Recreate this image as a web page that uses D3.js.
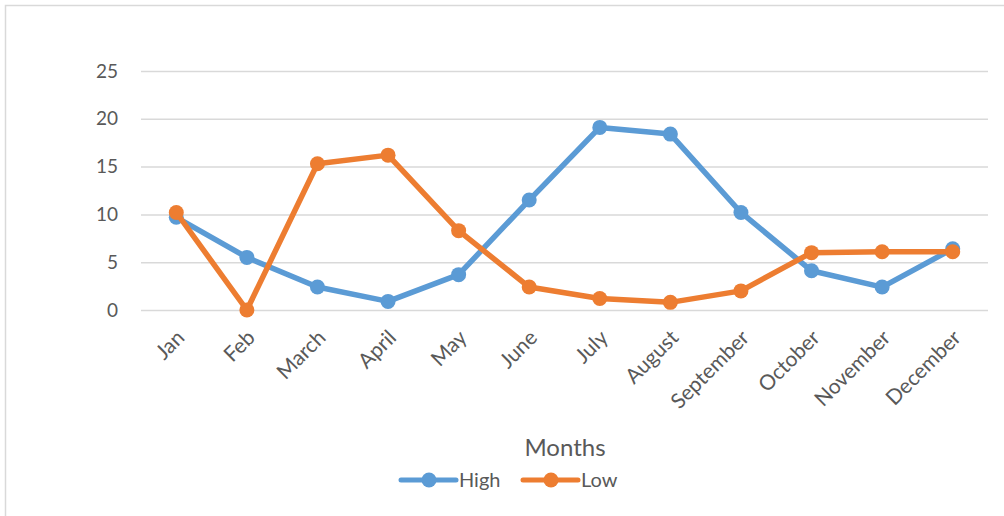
<!DOCTYPE html>
<html>
<head>
<meta charset="utf-8">
<script src="https://cdn.jsdelivr.net/npm/d3@7"></script>
<style>
  html, body { margin: 0; padding: 0; background: #fff; }
  svg { display: block; font-family: Lato, "Open Sans", sans-serif; }
</style>
</head>
<body>
<script>
"use strict";

const width = 1004;
const height = 516;

const months = ["Jan", "Feb", "March", "April", "May", "June", "July",
  "August", "September", "October", "November", "December"];
const high = [9.7, 5.5, 2.4, 0.9, 3.7, 11.5, 19.1, 18.4, 10.2, 4.1, 2.4, 6.4];
const low = [10.2, 0, 15.3, 16.2, 8.3, 2.4, 1.2, 0.8, 2.0, 6.0, 6.1, 6.1];
const yTicks = [0, 5, 10, 15, 20, 25];
const seriesNames = ["High", "Low"];
const colors = ["#5b9bd5", "#ed7d31"];

const svg = d3.select("body").append("svg")
  .attr("width", width)
  .attr("height", height);

// chart area border (runs off right and bottom edge)
svg.append("rect")
  .attr("x", 5.5).attr("y", 5.5)
  .attr("width", 1010).attr("height", 520)
  .attr("fill", "none")
  .attr("stroke", "#d9d9d9")
  .attr("stroke-width", 1.5);

const x = d3.scalePoint().domain(months).range([141, 988]).padding(0.5);
const y = d3.scaleLinear().domain([0, 25]).range([310, 71]);

// gridlines + y labels
const yAxis = svg.append("g")
  .attr("transform", "translate(141,0)")
  .call(d3.axisLeft(y).tickValues(yTicks).tickSize(-847).tickPadding(23));
yAxis.select(".domain").remove();
yAxis.selectAll(".tick line").attr("stroke", "#d9d9d9").attr("stroke-width", 1.5);
yAxis.selectAll(".tick text")
  .attr("fill", "#595959")
  .style("font-size", "19px")
  .style("font-family", "Lato, sans-serif");

// x labels
const xAxis = svg.append("g")
  .attr("transform", "translate(0,310)")
  .call(d3.axisBottom(x).tickSize(0).tickPadding(0));
xAxis.select(".domain").remove();
xAxis.selectAll(".tick text")
  .attr("fill", "#595959")
  .style("font-size", "21px")
  .style("font-family", "Lato, sans-serif")
  .attr("text-anchor", "end")
  .attr("dy", "0")
  .attr("transform", "translate(9,29) rotate(-45)");

// lines
const series = [high, low];
const line = d3.line().x((d, i) => x(months[i])).y(d => y(d));

series.forEach((vals, s) => {
  const g = svg.append("g").attr("class", "series-" + s);
  g.append("path")
    .datum(vals)
    .attr("d", line)
    .attr("fill", "none")
    .attr("stroke", colors[s])
    .attr("stroke-width", 5.5)
    .attr("stroke-linejoin", "round")
    .attr("stroke-linecap", "round");
  g.selectAll("circle")
    .data(vals)
    .enter()
    .append("circle")
    .attr("cx", (d, i) => x(months[i]))
    .attr("cy", d => y(d))
    .attr("r", 7.5)
    .attr("fill", colors[s]);
});

// axis title
svg.append("text")
  .attr("x", 565).attr("y", 456)
  .attr("text-anchor", "middle")
  .attr("fill", "#595959")
  .style("font-size", "24px")
  .text("Months");

// legend
const legendX = [401, 523];
const leg = svg.selectAll(".legend")
  .data(seriesNames)
  .enter()
  .append("g")
  .attr("class", "legend")
  .attr("transform", (d, i) => "translate(" + legendX[i] + ",480)");
leg.append("line")
  .attr("x1", 0).attr("x2", 55)
  .attr("stroke", (d, i) => colors[i])
  .attr("stroke-width", 5)
  .attr("stroke-linecap", "round");
leg.append("circle")
  .attr("cx", 28).attr("r", 7.5)
  .attr("fill", (d, i) => colors[i]);
leg.append("text")
  .attr("x", 58).attr("y", 7)
  .attr("fill", "#595959")
  .style("font-size", "20px")
  .text(d => d);
</script>
</body>
</html>
